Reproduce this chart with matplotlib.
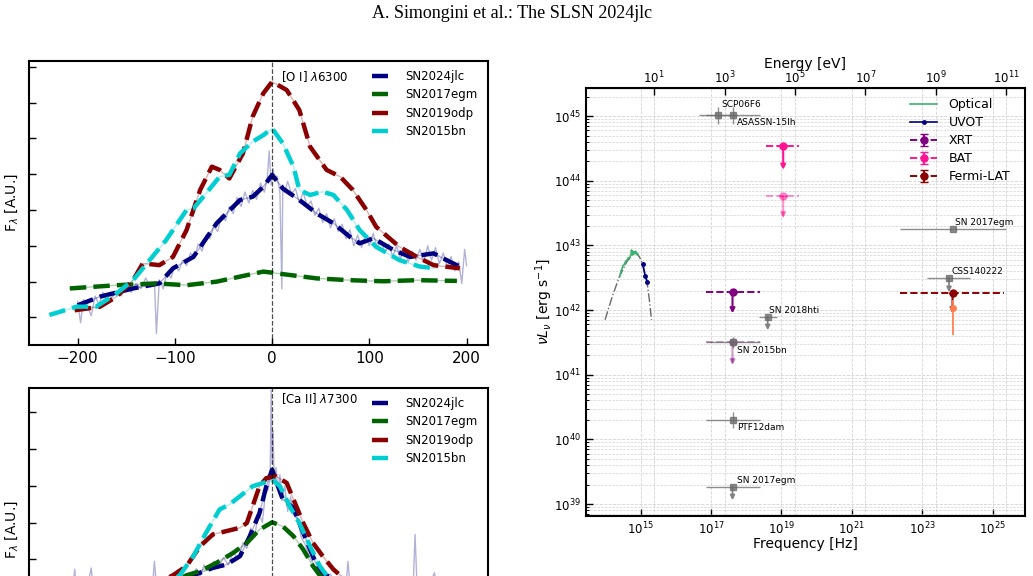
import numpy as np
import matplotlib.pyplot as plt
from matplotlib.ticker import NullLocator, LogLocator, NullFormatter

# ---------------- left panels: line profiles (x = velocity-like offset) ----------------
names = ["SN2024jlc", "SN2017egm", "SN2019odp", "SN2015bn"]
colors = ["navy", "darkgreen", "darkred", "darkturquoise"]

# [O I] 6300, smoothed profiles
oi_x_24jlc = [-200, -177, -143, -116, -102, -81, -57, -33, -20, -9, 0, 11, 28, 46, 63, 80, 90, 104, 125, 142, 166, 183, 193]
oi_y_24jlc = [0.34, 0.58, 0.81, 0.95, 1.37, 1.69, 2.63, 3.28, 3.37, 3.65, 3.98, 3.60, 3.28, 2.90, 2.63, 2.25, 2.07, 2.21, 1.88, 1.69, 1.79, 1.55, 1.42]
oi_x_17egm = [-208, -160, -119, -88, -57, -33, -9, 0, 11, 46, 80, 114, 149, 190]
oi_y_17egm = [0.81, 0.90, 0.95, 0.90, 1.00, 1.14, 1.28, 1.25, 1.21, 1.09, 1.04, 1.01, 1.04, 1.02]
oi_x_19odp = [-203, -177, -160, -143, -133, -116, -102, -88, -74, -62, -54, -44, -30, -20, -9, 0, 15, 28, 39, 56, 70, 83, 97, 107, 131, 149, 166, 193]
oi_y_19odp = [0.20, 0.30, 0.58, 1.04, 1.51, 1.46, 1.69, 2.44, 3.56, 4.21, 4.12, 3.88, 4.58, 5.61, 6.26, 6.58, 6.35, 5.79, 4.77, 4.12, 3.93, 3.56, 3.00, 2.53, 1.97, 1.69, 1.46, 1.37]
oi_x_15bn = [-229, -201, -181, -160, -143, -126, -109, -88, -81, -68, -54, -44, -33, -20, -9, 0, 11, 22, 28, 39, 52, 63, 77, 90, 107, 131, 152, 169]
oi_y_15bn = [0.07, 0.30, 0.30, 0.67, 1.04, 1.60, 2.16, 3.00, 3.04, 3.46, 3.93, 3.98, 4.58, 4.91, 5.09, 5.28, 4.86, 4.21, 3.56, 3.42, 3.51, 3.42, 3.00, 2.44, 1.97, 1.60, 1.42, 1.37]

# [O I] 6300, SN2024jlc raw spectrum
oi_raw_x = [-200, -197, -194, -190, -186, -182, -178, -174, -170, -165, -160, -155, -150, -145, -140, -135,
            -130, -125, -121, -119, -116, -112, -108, -104, -100, -96, -92, -88, -84, -80, -76, -72, -68,
            -64, -60, -56, -52, -48, -44, -40, -36, -32, -28, -24, -20, -16, -12, -8, -5, -3, -1, 1, 3, 5,
            8, 10, 11, 13, 16, 20, 24, 28, 32, 36, 40, 44, 48, 52, 56, 60, 64, 68, 72, 76, 80, 84, 88, 92,
            96, 100, 104, 108, 112, 116, 120, 124, 128, 132, 136, 140, 144, 148, 152, 156, 160, 164, 168,
            172, 176, 180, 184, 188, 192, 195, 198, 200]
oi_raw_y = [0.45, -0.15, 0.50, 0.30, 0.05, 0.60, 0.35, 0.70, 0.45, 0.55, 0.75, 0.60, 0.90, 0.70, 0.95, 0.80,
            1.10, 0.85, 1.00, -0.45, 1.05, 0.80, 1.25, 1.10, 1.45, 1.30, 1.60, 1.45, 1.80, 1.65, 2.05, 1.85, 2.30,
            2.20, 2.55, 2.40, 2.85, 2.70, 3.10, 2.90, 3.35, 3.10, 3.50, 3.20, 3.55, 3.30, 3.75, 3.50, 3.90, 4.65, 3.70, 4.15, 3.80, 3.95,
            3.50, 0.80, 3.70, 3.50, 3.80, 3.45, 3.60, 3.20, 3.50, 3.10, 3.25, 2.85, 3.05, 2.65, 2.90, 2.50, 2.75, 2.40, 2.60, 2.20, 2.45, 2.00, 2.30, 1.95,
            2.30, 2.00, 2.35, 1.95, 2.15, 1.80, 2.05, 1.70, 2.00, 1.65, 1.90, 1.55, 1.85, 1.60, 1.90, 1.55, 2.00, 1.60, 1.95,
            1.50, 1.80, 1.40, 1.70, 1.30, 1.55, 0.95, 1.90, 1.45]

# [Ca II] 7300, smoothed profiles
ca_x_24jlc = [-200, -140, -100, -81, -74, -61, -47, -33, -23, -13, -6, 0, 6, 11, 22, 28, 39, 49, 56, 70, 120, 200]
ca_y_24jlc = [3.20, 3.30, 3.45, 3.57, 3.64, 3.77, 3.86, 4.09, 4.63, 5.26, 5.99, 6.44, 5.99, 5.63, 5.40, 4.99, 4.27, 3.64, 3.57, 3.35, 3.25, 3.20]
ca_x_17egm = [-200, -130, -88, -74, -57, -40, -26, -13, 0, 11, 22, 32, 42, 49, 80, 200]
ca_y_17egm = [2.60, 3.00, 3.57, 3.68, 3.91, 4.18, 4.45, 4.81, 5.01, 4.90, 4.63, 4.27, 3.82, 3.57, 3.00, 2.60]
ca_x_19odp = [-200, -130, -102, -88, -74, -61, -47, -33, -26, -20, -13, -6, 4, 15, 22, 32, 42, 52, 63, 70, 100, 200]
ca_y_19odp = [2.80, 3.20, 3.57, 3.82, 4.36, 4.68, 4.77, 4.86, 4.99, 5.45, 5.99, 6.21, 6.26, 6.08, 5.63, 4.99, 4.45, 4.09, 3.73, 3.57, 3.10, 2.90]
ca_x_15bn = [-200, -120, -95, -81, -68, -54, -44, -33, -20, -9, 0, 8, 18, 28, 39, 49, 56, 90, 200]
ca_y_15bn = [2.80, 3.10, 3.57, 4.09, 4.72, 5.36, 5.49, 5.72, 5.99, 6.08, 6.17, 5.99, 5.45, 4.99, 4.36, 3.82, 3.57, 3.00, 2.80]

# [Ca II] 7300, SN2024jlc raw spectrum
ca_raw_x = [-205, -203, -201, -190, -186, -184, -160, -140, -123, -121, -119, -100, -90, -81, -78, -74, -70,
            -66, -60, -55, -50, -45, -40, -35, -30, -26, -22, -18, -14, -10, -7, -4, -2, -1, 0, 1, 2, 4,
            6, 8, 10, 13, 16, 19, 22, 26, 30, 34, 38, 42, 46, 50, 55, 60, 65, 70, 76, 78, 80, 90, 100, 120,
            145, 147, 149, 160, 167, 169, 185, 200]
ca_raw_y = [3.20, 3.73, 3.10, 3.25, 3.77, 3.20, 3.30, 3.35, 3.30, 3.95, 3.30, 3.40, 3.50, 3.60, 3.75, 3.55, 3.85,
            3.70, 3.95, 3.80, 4.05, 3.85, 4.20, 4.00, 4.45, 4.30, 4.85, 4.60, 5.30, 5.00, 5.80, 5.90, 6.30, 8.60, 6.60, 7.50, 6.20, 6.50,
            5.90, 6.30, 5.60, 6.00, 5.30, 5.70, 5.20, 5.10, 4.60, 4.40, 4.10, 3.90, 3.70, 3.70, 3.50, 3.60, 3.35, 3.50, 3.30, 3.95, 3.30, 3.40, 3.25, 3.30,
            3.25, 4.68, 3.30, 3.20, 3.64, 3.20, 3.25, 3.20]

# ---------------- right panel: SED (log10 values) ----------------
H_EV = 4.135667e-15  # eV s

opt_lognu = [14.41, 14.44, 14.47, 14.50, 14.53, 14.56, 14.59, 14.62, 14.65, 14.68, 14.71, 14.73, 14.74, 14.76,
             14.78, 14.80, 14.82, 14.84, 14.86, 14.88, 14.90, 14.92, 14.93]
opt_logL = [42.52, 42.60, 42.64, 42.69, 42.70, 42.74, 42.76, 42.78, 42.81, 42.79, 42.84, 42.87, 42.93, 42.86,
            42.91, 42.86, 42.90, 42.88, 42.91, 42.87, 42.88, 42.85, 42.86]
bb_lognu = [13.99, 14.20, 14.40, 14.60, 14.75, 14.87, 14.97, 15.06, 15.13, 15.19, 15.25, 15.31]
bb_logL = [41.85, 42.22, 42.52, 42.74, 42.85, 42.88, 42.82, 42.70, 42.55, 42.40, 42.15, 41.85]
uvot_lognu = [15.06, 15.13, 15.19]
uvot_logL = [42.71, 42.53, 42.44]

# upper limits: (log nu, log nu band low, log nu band high, log L, log L arrow tip)
xrt_lim = (17.61, 16.85, 18.39, 42.275, 41.95)
xrt_lim2 = (17.61, 16.85, 18.39, 41.50, 41.15)
bat_lim = (19.05, 18.55, 19.50, 44.53, 44.17)
bat_lim2 = (19.05, 18.55, 19.50, 43.76, 43.42)
lat_lim = (23.86, 22.37, 25.32, 42.27, 41.95)
lat_point = (23.86, 42.03, 41.62, 42.16)  # log nu, log L, low, high

# comparison SLSNe
cmp_names = ["SCP06F6", "ASASSN-15lh", "SN 2017egm", "CSS140222", "SN 2018hti", "SN 2015bn", "PTF12dam", "SN 2017egm"]
cmp_lognu = [17.19, 17.61, 23.86, 23.76, 18.61, 17.61, 17.61, 17.61]
cmp_nu_lo = [16.66, 16.85, 22.37, 23.14, 18.37, 16.85, 16.85, 16.85]
cmp_nu_hi = [17.75, 18.39, 25.37, 24.37, 18.88, 18.39, 18.39, 18.39]
cmp_logL = [45.015, 45.015, 43.26, 42.50, 41.90, 41.50, 40.30, 39.27]
cmp_err = [0.13, 0.13, 0.0, 0.0, 0.0, 0.09, 0.12, 0.0]
cmp_tip = [None, None, None, 42.28, 41.69, None, None, 39.06]
cmp_lab_nu = [17.30, 17.74, 23.93, 23.82, 18.65, 17.74, 17.74, 17.74]
cmp_lab_L = [45.185, 44.90, 43.35, 42.59, 41.99, 41.38, 40.19, 39.36]

fig = plt.figure(figsize=(10.33, 5.76), dpi=100)
fig.text(0.4953, 0.977, "A. Simongini et al.: The SLSN 2024jlc", ha="center", va="center",
         family=["Liberation Serif", "DejaVu Serif"], fontsize=13)


def line_panel(ax, smooth, raw, label, label_y, ylim, yticks, show_x=True):
    for (xs, ys), c in zip(smooth, colors):
        ax.plot(xs, ys, color=c, lw=1, alpha=0.3, zorder=1)
    ax.plot(raw[0], raw[1], color="navy", lw=1, alpha=0.3, zorder=1)
    for (xs, ys), c, n in zip(smooth, colors, names):
        ax.plot(xs, ys, color=c, lw=3.2, ls="--", label=n, zorder=2)
    ax.axvline(0, color="k", lw=0.9, ls="--", alpha=0.7, zorder=3)
    ax.text(9, label_y, label, fontsize=8.5, va="center", ha="left")
    ax.set_xlim(-250, 222)
    ax.set_ylim(*ylim)
    ax.set_xticks([-200, -100, 0, 100, 200])
    ax.set_yticks(yticks)
    ax.set_yticklabels([])
    ax.tick_params(axis="both", direction="in", length=5, width=1, labelsize=11)
    ax.tick_params(axis="x", pad=4, labelbottom=show_x)
    for s in ax.spines.values():
        s.set_linewidth(1.5)
    ax.set_ylabel(r"F$_\lambda$ [A.U.]", fontsize=10)
    ax.yaxis.set_label_coords(-0.02, 0.5)
    ax.legend(loc="upper left", bbox_to_anchor=(0.747, 0.968), frameon=False, fontsize=8.5,
              handlelength=1.4, handletextpad=1.45, labelspacing=0.45, borderpad=0, borderaxespad=0)


ax1 = fig.add_axes([0.0281, 0.401, 0.4443, 0.4931])
line_panel(ax1,
           [(oi_x_24jlc, oi_y_24jlc), (oi_x_17egm, oi_y_17egm), (oi_x_19odp, oi_y_19odp), (oi_x_15bn, oi_y_15bn)],
           (oi_raw_x, oi_raw_y), r"[O I] $\lambda$6300", 6.72, (-0.77, 7.16), range(0, 8))

ax2 = fig.add_axes([0.0281, -0.1667, 0.4443, 0.4931])
line_panel(ax2,
           [(ca_x_24jlc, ca_y_24jlc), (ca_x_17egm, ca_y_17egm), (ca_x_19odp, ca_y_19odp), (ca_x_15bn, ca_y_15bn)],
           (ca_raw_x, ca_raw_y), r"[Ca II] $\lambda$7300", 8.38, (0.94, 8.66), range(1, 9), show_x=False)

# ---------------- SED panel ----------------
ax = fig.add_axes([0.567, 0.1047, 0.4253, 0.742])
ax.set_xscale("log")
ax.set_yscale("log")
p = lambda v: 10 ** np.asarray(v, dtype=float)

ax.plot(p(bb_lognu), p(bb_logL), color="dimgray", lw=1, ls="-.", zorder=2)
ax.plot(p(opt_lognu), p(opt_logL), color="mediumseagreen", lw=1.2, label="Optical", zorder=3)
ax.plot(p(uvot_lognu), p(uvot_logL), color="navy", lw=1.2, marker="o", ms=2.5, label="UVOT", zorder=3)


def arrow(x, y0, y1, c, alpha=1.0, lw=1.5):
    ax.annotate("", xy=(x, y1), xytext=(x, y0),
                arrowprops=dict(arrowstyle="-|>", color=c, lw=lw, alpha=alpha, shrinkA=0, shrinkB=0,
                                mutation_scale=7), zorder=4)


def limit(lim, c, label=None, alpha=1.0):
    nu, lo, hi, L, tip = lim
    ax.hlines(p(L), p(lo), p(hi), colors=c, linestyles="--", lw=1.4, alpha=alpha, zorder=3)
    arrow(p(nu), p(L), p(tip), c, alpha)
    ax.errorbar([p(nu)], [p(L)], yerr=[0], fmt="o--", color=c, ms=5, capsize=3, lw=1.4,
                alpha=alpha, label=label, zorder=5)


limit(xrt_lim2, "purple", alpha=0.4)
limit(xrt_lim, "purple", "XRT")
limit(bat_lim, "deeppink", "BAT")
limit(bat_lim2, "deeppink", alpha=0.45)
limit(lat_lim, "darkred", "Fermi-LAT")
ax.errorbar([p(lat_point[0])], [p(lat_point[1])],
            yerr=[[p(lat_point[1]) - p(lat_point[2])], [p(lat_point[3]) - p(lat_point[1])]],
            fmt="o", color="coral", ms=4, lw=1.3, zorder=4)

for n, nu, lo, hi, L, e, tip, lx, ly in zip(cmp_names, cmp_lognu, cmp_nu_lo, cmp_nu_hi, cmp_logL,
                                             cmp_err, cmp_tip, cmp_lab_nu, cmp_lab_L):
    ax.errorbar([p(nu)], [p(L)], xerr=[[p(nu) - p(lo)], [p(hi) - p(nu)]],
                yerr=[[p(L) - p(L - e)], [p(L + e) - p(L)]] if e > 0 else None,
                fmt="s", color="dimgray", ms=4.5, lw=1, alpha=0.75, zorder=6)
    if tip is not None:
        arrow(p(nu), p(L), p(tip), "gray", lw=1.2)
    ax.text(p(lx), p(ly), n, fontsize=6.5, va="center", ha="left", zorder=7)

ax.set_xlim(10 ** 13.44, 10 ** 25.92)
ax.set_ylim(10 ** 38.82, 10 ** 45.43)
ax.set_xticks(p([15, 17, 19, 21, 23, 25]))
ax.xaxis.set_minor_locator(NullLocator())
ax.yaxis.set_major_locator(LogLocator(base=10, numticks=20))
ax.yaxis.set_minor_locator(LogLocator(base=10, subs=np.arange(2, 10), numticks=20))
ax.yaxis.set_minor_formatter(NullFormatter())
ax.tick_params(axis="both", which="major", direction="in", length=5, width=1, labelsize=8.5)
ax.tick_params(axis="y", which="minor", direction="in", length=2.5, width=0.7)
ax.grid(which="major", color="lightgray", ls="--", lw=0.6)
ax.grid(which="minor", axis="y", color="lightgray", ls="--", lw=0.5)
for e_tick in [1e1, 1e3, 1e5, 1e7, 1e9, 1e11]:
    ax.axvline(e_tick / H_EV, color="lightgray", ls="--", lw=0.6, zorder=0)
for s in ax.spines.values():
    s.set_linewidth(1.5)
ax.set_xlabel("Frequency [Hz]", fontsize=10, labelpad=0)
ax.set_ylabel(r"$\nu L_\nu$ [erg s$^{-1}$]", fontsize=10, labelpad=-1)

secax = ax.secondary_xaxis("top", functions=(lambda nu: nu * H_EV, lambda en: en / H_EV))
secax.set_xticks([1e1, 1e3, 1e5, 1e7, 1e9, 1e11])
secax.xaxis.set_minor_locator(NullLocator())
secax.tick_params(axis="x", direction="in", length=5, width=1, labelsize=8.5, pad=1.5)
secax.set_xlabel("Energy [eV]", fontsize=10, labelpad=1)

ax.legend(loc="upper left", bbox_to_anchor=(0.738, 0.977), frameon=False, fontsize=9,
          handlelength=2.2, handletextpad=0.9, labelspacing=0.4, borderpad=0, borderaxespad=0)

fig.savefig("out.png", dpi=100)
